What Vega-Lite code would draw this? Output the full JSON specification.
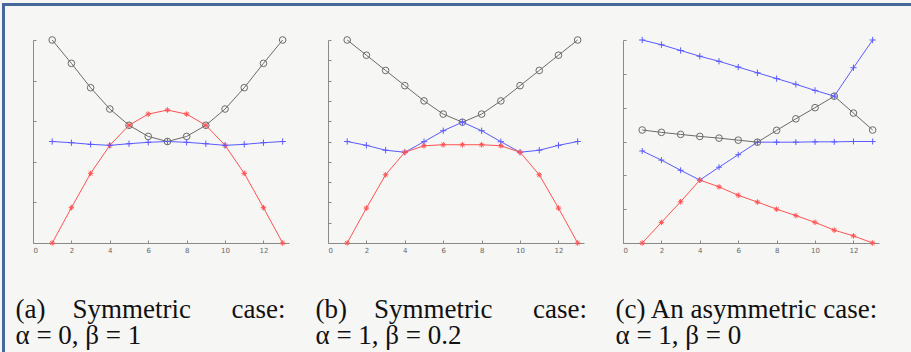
{
  "$schema": "https://vega.github.io/schema/vega-lite/v6.json",
  "background": "#f6f6f4",
  "padding": {"left": 0, "top": 1, "right": 0, "bottom": 0},
  "spacing": 39,
  "bounds": "flush",
  "config": {
    "view": {"stroke": null},
    "axis": {"domainColor": "#8a8a8a", "tickColor": "#8a8a8a", "labelColor": "#666666", "grid": false, "labelFont": "DejaVu Sans", "labelFontSize": 7},
    "axisX": {"titleFont": "Liberation Serif", "titleFontSize": 27, "titleFontWeight": "normal", "titleColor": "#111111", "titleAnchor": "start", "titleAlign": "left", "titleBaseline": "alphabetic", "titleY": 74, "titleLineHeight": 26, "titlePadding": 0}
  },
  "datasets": {
    "d": [
      {"p": "a", "s": "gray", "x": 1, "y": 10}, {"p": "a", "s": "gray", "x": 2, "y": 8.85}, {"p": "a", "s": "gray", "x": 3, "y": 7.65}, {"p": "a", "s": "gray", "x": 4, "y": 6.6}, {"p": "a", "s": "gray", "x": 5, "y": 5.8}, {"p": "a", "s": "gray", "x": 6, "y": 5.25}, {"p": "a", "s": "gray", "x": 7, "y": 5.0}, {"p": "a", "s": "gray", "x": 8, "y": 5.25}, {"p": "a", "s": "gray", "x": 9, "y": 5.8}, {"p": "a", "s": "gray", "x": 10, "y": 6.6}, {"p": "a", "s": "gray", "x": 11, "y": 7.65}, {"p": "a", "s": "gray", "x": 12, "y": 8.85}, {"p": "a", "s": "gray", "x": 13, "y": 10},
      {"p": "a", "s": "red", "x": 1, "y": 0}, {"p": "a", "s": "red", "x": 2, "y": 1.74}, {"p": "a", "s": "red", "x": 3, "y": 3.43}, {"p": "a", "s": "red", "x": 4, "y": 4.81}, {"p": "a", "s": "red", "x": 5, "y": 5.8}, {"p": "a", "s": "red", "x": 6, "y": 6.35}, {"p": "a", "s": "red", "x": 7, "y": 6.55}, {"p": "a", "s": "red", "x": 8, "y": 6.35}, {"p": "a", "s": "red", "x": 9, "y": 5.8}, {"p": "a", "s": "red", "x": 10, "y": 4.81}, {"p": "a", "s": "red", "x": 11, "y": 3.43}, {"p": "a", "s": "red", "x": 12, "y": 1.74}, {"p": "a", "s": "red", "x": 13, "y": 0},
      {"p": "a", "s": "blue", "x": 1, "y": 5.0}, {"p": "a", "s": "blue", "x": 2, "y": 4.94}, {"p": "a", "s": "blue", "x": 3, "y": 4.86}, {"p": "a", "s": "blue", "x": 4, "y": 4.81}, {"p": "a", "s": "blue", "x": 5, "y": 4.89}, {"p": "a", "s": "blue", "x": 6, "y": 4.96}, {"p": "a", "s": "blue", "x": 7, "y": 5.0}, {"p": "a", "s": "blue", "x": 8, "y": 4.96}, {"p": "a", "s": "blue", "x": 9, "y": 4.89}, {"p": "a", "s": "blue", "x": 10, "y": 4.81}, {"p": "a", "s": "blue", "x": 11, "y": 4.86}, {"p": "a", "s": "blue", "x": 12, "y": 4.94}, {"p": "a", "s": "blue", "x": 13, "y": 5.0},
      {"p": "b", "s": "gray", "x": 1, "y": 10}, {"p": "b", "s": "gray", "x": 2, "y": 9.25}, {"p": "b", "s": "gray", "x": 3, "y": 8.5}, {"p": "b", "s": "gray", "x": 4, "y": 7.75}, {"p": "b", "s": "gray", "x": 5, "y": 7.0}, {"p": "b", "s": "gray", "x": 6, "y": 6.35}, {"p": "b", "s": "gray", "x": 7, "y": 5.95}, {"p": "b", "s": "gray", "x": 8, "y": 6.35}, {"p": "b", "s": "gray", "x": 9, "y": 7.0}, {"p": "b", "s": "gray", "x": 10, "y": 7.75}, {"p": "b", "s": "gray", "x": 11, "y": 8.5}, {"p": "b", "s": "gray", "x": 12, "y": 9.25}, {"p": "b", "s": "gray", "x": 13, "y": 10},
      {"p": "b", "s": "blue", "x": 1, "y": 5.0}, {"p": "b", "s": "blue", "x": 2, "y": 4.81}, {"p": "b", "s": "blue", "x": 3, "y": 4.57}, {"p": "b", "s": "blue", "x": 4, "y": 4.47}, {"p": "b", "s": "blue", "x": 5, "y": 4.99}, {"p": "b", "s": "blue", "x": 6, "y": 5.53}, {"p": "b", "s": "blue", "x": 7, "y": 5.95}, {"p": "b", "s": "blue", "x": 8, "y": 5.53}, {"p": "b", "s": "blue", "x": 9, "y": 4.99}, {"p": "b", "s": "blue", "x": 10, "y": 4.47}, {"p": "b", "s": "blue", "x": 11, "y": 4.57}, {"p": "b", "s": "blue", "x": 12, "y": 4.81}, {"p": "b", "s": "blue", "x": 13, "y": 5.0},
      {"p": "b", "s": "red", "x": 1, "y": 0}, {"p": "b", "s": "red", "x": 2, "y": 1.72}, {"p": "b", "s": "red", "x": 3, "y": 3.36}, {"p": "b", "s": "red", "x": 4, "y": 4.47}, {"p": "b", "s": "red", "x": 5, "y": 4.79}, {"p": "b", "s": "red", "x": 6, "y": 4.84}, {"p": "b", "s": "red", "x": 7, "y": 4.84}, {"p": "b", "s": "red", "x": 8, "y": 4.84}, {"p": "b", "s": "red", "x": 9, "y": 4.79}, {"p": "b", "s": "red", "x": 10, "y": 4.47}, {"p": "b", "s": "red", "x": 11, "y": 3.36}, {"p": "b", "s": "red", "x": 12, "y": 1.72}, {"p": "b", "s": "red", "x": 13, "y": 0},
      {"p": "c", "s": "blue", "x": 1, "y": 6.0}, {"p": "c", "s": "blue", "x": 2, "y": 5.86}, {"p": "c", "s": "blue", "x": 3, "y": 5.69}, {"p": "c", "s": "blue", "x": 4, "y": 5.52}, {"p": "c", "s": "blue", "x": 5, "y": 5.37}, {"p": "c", "s": "blue", "x": 6, "y": 5.2}, {"p": "c", "s": "blue", "x": 7, "y": 5.03}, {"p": "c", "s": "blue", "x": 8, "y": 4.86}, {"p": "c", "s": "blue", "x": 9, "y": 4.69}, {"p": "c", "s": "blue", "x": 10, "y": 4.51}, {"p": "c", "s": "blue", "x": 11, "y": 4.34}, {"p": "c", "s": "blue", "x": 12, "y": 5.18}, {"p": "c", "s": "blue", "x": 13, "y": 6.0},
      {"p": "c", "s": "blue2", "x": 1, "y": 2.72}, {"p": "c", "s": "blue2", "x": 2, "y": 2.45}, {"p": "c", "s": "blue2", "x": 3, "y": 2.15}, {"p": "c", "s": "blue2", "x": 4, "y": 1.86}, {"p": "c", "s": "blue2", "x": 5, "y": 2.24}, {"p": "c", "s": "blue2", "x": 6, "y": 2.61}, {"p": "c", "s": "blue2", "x": 7, "y": 2.98}, {"p": "c", "s": "blue2", "x": 8, "y": 2.98}, {"p": "c", "s": "blue2", "x": 9, "y": 2.98}, {"p": "c", "s": "blue2", "x": 10, "y": 2.99}, {"p": "c", "s": "blue2", "x": 11, "y": 2.99}, {"p": "c", "s": "blue2", "x": 12, "y": 3.0}, {"p": "c", "s": "blue2", "x": 13, "y": 3.0},
      {"p": "c", "s": "gray", "x": 1, "y": 3.34}, {"p": "c", "s": "gray", "x": 2, "y": 3.27}, {"p": "c", "s": "gray", "x": 3, "y": 3.21}, {"p": "c", "s": "gray", "x": 4, "y": 3.15}, {"p": "c", "s": "gray", "x": 5, "y": 3.1}, {"p": "c", "s": "gray", "x": 6, "y": 3.04}, {"p": "c", "s": "gray", "x": 7, "y": 2.98}, {"p": "c", "s": "gray", "x": 8, "y": 3.33}, {"p": "c", "s": "gray", "x": 9, "y": 3.67}, {"p": "c", "s": "gray", "x": 10, "y": 4.0}, {"p": "c", "s": "gray", "x": 11, "y": 4.34}, {"p": "c", "s": "gray", "x": 12, "y": 3.84}, {"p": "c", "s": "gray", "x": 13, "y": 3.34},
      {"p": "c", "s": "red", "x": 1, "y": 0}, {"p": "c", "s": "red", "x": 2, "y": 0.61}, {"p": "c", "s": "red", "x": 3, "y": 1.22}, {"p": "c", "s": "red", "x": 4, "y": 1.86}, {"p": "c", "s": "red", "x": 5, "y": 1.66}, {"p": "c", "s": "red", "x": 6, "y": 1.41}, {"p": "c", "s": "red", "x": 7, "y": 1.21}, {"p": "c", "s": "red", "x": 8, "y": 1.0}, {"p": "c", "s": "red", "x": 9, "y": 0.81}, {"p": "c", "s": "red", "x": 10, "y": 0.61}, {"p": "c", "s": "red", "x": 11, "y": 0.38}, {"p": "c", "s": "red", "x": 12, "y": 0.21}, {"p": "c", "s": "red", "x": 13, "y": 0}
    ]
  },
  "hconcat": [
    {
      "width": 256, "height": 203,
      "data": {"name": "d"},
      "transform": [{"filter": "datum.p === 'a'"}],
      "layer": [
        {"mark": {"type": "rule", "strokeWidth": 3, "color": "#46689a", "clip": false},
         "encoding": {"x": {"datum": -1.536, "type": "quantitative", "scale": {"domain": [0, 13.33], "nice": false}}, "y": {"datum": 11.82, "type": "quantitative", "scale": {"domain": [0, 10], "nice": false}}, "y2": {"datum": -5.5}}},
        {"mark": {"type": "rule", "strokeWidth": 3, "color": "#46689a", "clip": false},
         "encoding": {"x": {"datum": -1.6, "type": "quantitative"}, "x2": {"datum": 46.0}, "y": {"datum": 11.75, "type": "quantitative"}}},
        {"mark": {"type": "line", "strokeWidth": 1},
         "encoding": {
           "x": {"field": "x", "type": "quantitative", "scale": {"domain": [0, 13.33], "nice": false}, "axis": {"values": [0, 2, 4, 6, 8, 10, 12], "tickSize": -3, "labelPadding": 6, "title": ["(a)\u00a0\u00a0\u00a0\u00a0Symmetric\u00a0\u00a0\u00a0\u00a0\u00a0\u00a0case:", "α\u00a0=\u00a00,\u00a0β\u00a0=\u00a01"], "titleX": -18}},
           "y": {"field": "y", "type": "quantitative", "scale": {"domain": [0, 10], "nice": false}, "axis": {"values": [0, 1, 2, 3, 4, 5, 6, 7, 8, 9, 10], "labels": false, "tickSize": -3, "title": null}},
           "color": {"field": "s", "type": "nominal", "scale": {"domain": ["gray", "blue", "blue2", "red"], "range": ["#6b6b6b", "#5a5aff", "#5a5aff", "#ff5252"]}, "legend": null}
         }},
        {"mark": {"type": "point", "filled": false, "strokeWidth": 1, "opacity": 1},
         "encoding": {
           "x": {"field": "x", "type": "quantitative"},
           "y": {"field": "y", "type": "quantitative"},
           "color": {"field": "s", "type": "nominal", "legend": null},
           "shape": {"field": "s", "type": "nominal", "scale": {"domain": ["gray", "blue", "blue2", "red"], "range": ["circle", "M-1,0H1M0,-1V1", "M-1,0H1M0,-1V1", "M-1,0H1M0,-1V1M-0.7,-0.7L0.7,0.7M-0.7,0.7L0.7,-0.7"]}, "legend": null},
           "size": {"field": "s", "type": "ordinal", "scale": {"domain": ["gray", "blue", "blue2", "red"], "range": [44, 30, 30, 30]}, "legend": null}
         }}
      ]
    },
    {
      "width": 256, "height": 203,
      "data": {"name": "d"},
      "transform": [{"filter": "datum.p === 'b'"}],
      "encoding": {
        "x": {"field": "x", "type": "quantitative", "scale": {"domain": [0, 13.33], "nice": false}, "axis": {"values": [0, 2, 4, 6, 8, 10, 12], "tickSize": -3, "labelPadding": 6, "title": ["(b)\u00a0\u00a0\u00a0\u00a0Symmetric\u00a0\u00a0\u00a0\u00a0\u00a0\u00a0case:", "α\u00a0=\u00a01,\u00a0β\u00a0=\u00a00.2"], "titleX": -13}},
        "y": {"field": "y", "type": "quantitative", "scale": {"domain": [0, 10], "nice": false}, "axis": {"values": [0, 1, 2, 3, 4, 5, 6, 7, 8, 9, 10], "labels": false, "tickSize": -3, "title": null}},
        "color": {"field": "s", "type": "nominal", "scale": {"domain": ["gray", "blue", "blue2", "red"], "range": ["#6b6b6b", "#5a5aff", "#5a5aff", "#ff5252"]}, "legend": null}
      },
      "layer": [
        {"mark": {"type": "line", "strokeWidth": 1}},
        {"mark": {"type": "point", "filled": false, "strokeWidth": 1, "opacity": 1},
         "encoding": {
           "shape": {"field": "s", "type": "nominal", "scale": {"domain": ["gray", "blue", "blue2", "red"], "range": ["circle", "M-1,0H1M0,-1V1", "M-1,0H1M0,-1V1", "M-1,0H1M0,-1V1M-0.7,-0.7L0.7,0.7M-0.7,0.7L0.7,-0.7"]}, "legend": null},
           "size": {"field": "s", "type": "ordinal", "scale": {"domain": ["gray", "blue", "blue2", "red"], "range": [44, 30, 30, 30]}, "legend": null}
         }}
      ]
    },
    {
      "width": 256, "height": 203,
      "data": {"name": "d"},
      "transform": [{"filter": "datum.p === 'c'"}],
      "encoding": {
        "x": {"field": "x", "type": "quantitative", "scale": {"domain": [0, 13.33], "nice": false}, "axis": {"values": [0, 2, 4, 6, 8, 10, 12], "tickSize": -3, "labelPadding": 6, "title": ["(c) An asymmetric case:", "α\u00a0=\u00a01,\u00a0β\u00a0=\u00a00"], "titleX": -8}},
        "y": {"field": "y", "type": "quantitative", "scale": {"domain": [0, 6], "nice": false}, "axis": {"values": [0, 1, 2, 3, 4, 5, 6], "labels": false, "tickSize": -3, "title": null}},
        "color": {"field": "s", "type": "nominal", "scale": {"domain": ["gray", "blue", "blue2", "red"], "range": ["#6b6b6b", "#5a5aff", "#5a5aff", "#ff5252"]}, "legend": null}
      },
      "layer": [
        {"mark": {"type": "line", "strokeWidth": 1}},
        {"mark": {"type": "point", "filled": false, "strokeWidth": 1, "opacity": 1},
         "encoding": {
           "shape": {"field": "s", "type": "nominal", "scale": {"domain": ["gray", "blue", "blue2", "red"], "range": ["circle", "M-1,0H1M0,-1V1", "M-1,0H1M0,-1V1", "M-1,0H1M0,-1V1M-0.7,-0.7L0.7,0.7M-0.7,0.7L0.7,-0.7"]}, "legend": null},
           "size": {"field": "s", "type": "ordinal", "scale": {"domain": ["gray", "blue", "blue2", "red"], "range": [44, 30, 30, 30]}, "legend": null}
         }}
      ]
    }
  ]
}
